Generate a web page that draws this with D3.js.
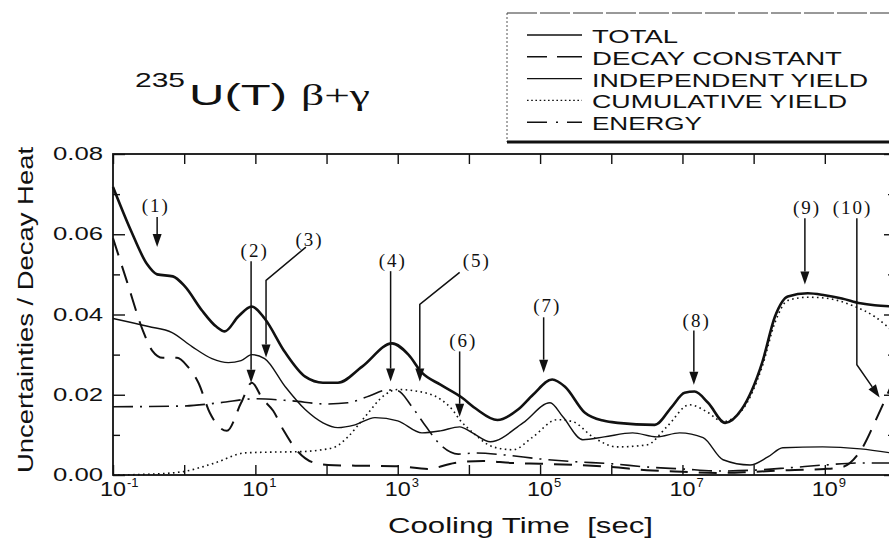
<!DOCTYPE html>
<html>
<head>
<meta charset="utf-8">
<script src="https://cdn.jsdelivr.net/npm/d3@7"></script>
<style>
  body { margin: 0; background: #fff; }
  svg { display: block; }
</style>
</head>
<body>
<svg id="chart" width="889" height="546"></svg>
<script>
// cooling time as log10(sec), values as uncertainty / decay heat
const totalLog = [-1, -0.75, -0.52, -0.38, -0.16, 0.01, 0.25, 0.45, 0.57, 0.76, 0.95, 1.13, 1.42, 1.70, 1.95, 2.16, 2.5, 2.92, 3.15, 3.34, 3.6, 3.9, 4.1, 4.4, 4.69, 4.9, 5.17, 5.35, 5.63, 5.9, 6.09, 6.61, 6.85, 7.03, 7.17, 7.36, 7.6, 7.83, 8.12, 8.3, 8.48, 8.76, 9.0, 9.24, 9.5, 9.7, 10.0];
const totalVal = [0.0718, 0.061, 0.0525, 0.050, 0.0495, 0.047, 0.041, 0.037, 0.0358, 0.0395, 0.042, 0.039, 0.0305, 0.0245, 0.023, 0.023, 0.027, 0.0328, 0.030, 0.0255, 0.0225, 0.0193, 0.0165, 0.0137, 0.0163, 0.020, 0.0238, 0.022, 0.0155, 0.0135, 0.013, 0.0125, 0.017, 0.0205, 0.0208, 0.018, 0.013, 0.0163, 0.028, 0.0395, 0.0445, 0.0453, 0.0448, 0.044, 0.0428, 0.0423, 0.042];

const decayLog = [-1, -0.8, -0.58, -0.45, -0.3, -0.1, 0.05, 0.2, 0.36, 0.6, 0.8, 0.95, 1.1, 1.25, 1.4, 1.6, 1.8, 2.02, 2.5, 3.0, 3.42, 3.8, 4.2, 4.6, 5.0, 5.5, 6.0, 6.5, 7.0, 7.5, 8.0, 8.5, 9.0, 9.25, 9.5, 9.75, 10.0];
const decayVal = [0.059, 0.048, 0.036, 0.031, 0.0292, 0.0292, 0.027, 0.023, 0.0155, 0.011, 0.018, 0.023, 0.019, 0.016, 0.011, 0.0058, 0.0032, 0.0025, 0.0023, 0.0022, 0.0015, 0.003, 0.0035, 0.003, 0.0028, 0.0025, 0.002, 0.0012, 0.0008, 0.0005, 0.0008, 0.0012, 0.0015, 0.002, 0.006, 0.015, 0.025];

const indepLog = [-1, -0.5, -0.17, 0.11, 0.39, 0.62, 0.8, 0.95, 1.13, 1.42, 1.70, 1.95, 2.16, 2.4, 2.68, 3.0, 3.34, 3.6, 3.87, 4.05, 4.30, 4.76, 5.14, 5.32, 5.6, 5.9, 6.3, 6.64, 6.96, 7.29, 7.57, 7.95, 8.2, 8.41, 8.97, 9.5, 10.0];
const indepVal = [0.039, 0.037, 0.0355, 0.032, 0.029, 0.028, 0.0285, 0.030, 0.029, 0.022, 0.0163, 0.013, 0.0118, 0.0125, 0.0143, 0.0135, 0.0105, 0.011, 0.012, 0.0105, 0.0083, 0.013, 0.018, 0.0145, 0.0088, 0.0095, 0.0105, 0.0095, 0.0105, 0.0093, 0.0038, 0.0025, 0.0045, 0.0068, 0.007, 0.0065, 0.0053];

const cumulLog = [-1, -0.5, -0.03, 0.43, 0.85, 1.2, 1.6, 1.9, 2.12, 2.3, 2.54, 2.82, 3.0, 3.3, 3.59, 3.78, 3.87, 4.06, 4.34, 4.62, 4.9, 5.24, 5.46, 5.74, 6.08, 6.5, 6.78, 7.1, 7.34, 7.57, 7.83, 8.12, 8.3, 8.48, 8.76, 9.0, 9.42, 9.7, 10.0];
const cumulVal = [0.0, 0.0002, 0.0008, 0.003, 0.0055, 0.0057, 0.0058, 0.0062, 0.007, 0.0095, 0.0145, 0.020, 0.0213, 0.0208, 0.019, 0.016, 0.0138, 0.0105, 0.007, 0.0063, 0.0095, 0.0138, 0.0133, 0.0095, 0.007, 0.0075, 0.012, 0.0175, 0.0158, 0.0133, 0.016, 0.027, 0.038, 0.0435, 0.0443, 0.0441, 0.042, 0.0395, 0.035];

const energyLog = [-1, 0, 0.5, 1.0, 1.5, 2.0, 2.3, 2.6, 2.85, 3.0, 3.2, 3.4, 3.6, 3.85, 4.1, 4.5, 5.0, 5.5, 6.0, 6.5, 7.0, 7.5, 8.0, 8.5, 9.0, 9.5, 10.0];
const energyVal = [0.017, 0.0172, 0.018, 0.019, 0.0185, 0.0177, 0.018, 0.0197, 0.0212, 0.021, 0.017, 0.012, 0.0075, 0.0052, 0.0055, 0.005, 0.004, 0.0033, 0.0028, 0.002, 0.0015, 0.001, 0.0012, 0.0018, 0.0025, 0.003, 0.003];

const legendNames = ["TOTAL", "DECAY CONSTANT", "INDEPENDENT YIELD", "CUMULATIVE YIELD", "ENERGY"];
const yTicks = [0.00, 0.02, 0.04, 0.06, 0.08];
const yMinorTicks = [0.01, 0.03, 0.05, 0.07];
const xLabelExps = [-1, 1, 3, 5, 7, 9];

// annotation arrows: label position, then path from label down to the arrow tip
const annoText = ["(1)", "(2)", "(3)", "(4)", "(5)", "(6)", "(7)", "(8)", "(9)", "(10)"];
const annoLabelLog = [-0.40, 0.99, 1.76, 2.93, 4.11, 3.92, 5.10, 7.20, 8.75, 9.39];
const annoLabelVal = [0.0655, 0.0543, 0.057, 0.0518, 0.0518, 0.032, 0.0405, 0.037, 0.065, 0.065];
const annoPathLog = [[-0.38, -0.38], [0.94, 0.94], [1.71, 1.15, 1.15], [2.90, 2.90], [3.87, 3.31, 3.31], [3.87, 3.87], [5.05, 5.05], [7.16, 7.16], [8.72, 8.72], [9.45, 9.45, 9.77]];
const annoPathVal = [[0.0643, 0.0568], [0.0533, 0.023], [0.0568, 0.0485, 0.0293], [0.0508, 0.0233], [0.0505, 0.0425, 0.0233], [0.0308, 0.0145], [0.0393, 0.0255], [0.036, 0.0225], [0.064, 0.0475], [0.064, 0.0275, 0.0193]];

const svg = d3.select("#chart");
const sans = "'Liberation Sans', Arial, sans-serif";
const serif = "'Liberation Serif', 'Times New Roman', serif";

const x = d3.scaleLog().domain([1e-1, 1e10]).range([113, 896]);
const y = d3.scaleLinear().domain([0, 0.08]).range([475, 154]);
const tx = e => x(Math.pow(10, e));

// series
const series = [
  { log: totalLog, val: totalVal, width: 2.6, dash: null },
  { log: decayLog, val: decayVal, width: 2, dash: "18,11" },
  { log: indepLog, val: indepVal, width: 1.4, dash: null },
  { log: cumulLog, val: cumulVal, width: 1.6, dash: "1.6,3.4" },
  { log: energyLog, val: energyVal, width: 1.6, dash: "20,7,2,7" }
];

const line = d3.line()
  .x(d => tx(d[0]))
  .y(d => y(d[1]))
  .curve(d3.curveMonotoneX);

svg.append("g").selectAll("path")
  .data(series)
  .join("path")
  .attr("d", s => line(d3.zip(s.log, s.val)))
  .attr("fill", "none")
  .attr("stroke", "#111")
  .attr("stroke-width", s => s.width)
  .attr("stroke-dasharray", s => s.dash)
  .attr("stroke-linejoin", "round");

// frame and ticks
const decades = d3.range(-1, 11).map(e => Math.pow(10, e));
svg.append("g").attr("transform", "translate(0,475)")
  .call(d3.axisBottom(x).tickValues(decades).tickSize(-10).tickFormat(""));
svg.append("g").attr("transform", "translate(0,154)")
  .call(d3.axisTop(x).tickValues(decades).tickSize(-10).tickFormat(""));
svg.append("g").attr("transform", "translate(113,0)")
  .call(d3.axisLeft(y).tickValues(yTicks).tickSize(-12).tickFormat(""));
svg.append("g").attr("transform", "translate(113,0)")
  .call(d3.axisLeft(y).tickValues(yMinorTicks).tickSize(-7).tickFormat(""));
svg.append("g").attr("transform", "translate(896,0)")
  .call(d3.axisRight(y).tickValues(yTicks).tickSize(-12).tickFormat(""));
svg.append("g").attr("transform", "translate(896,0)")
  .call(d3.axisRight(y).tickValues(yMinorTicks).tickSize(-8).tickFormat(""));
svg.selectAll(".domain").remove();
svg.selectAll(".tick line").attr("stroke", "#111").attr("stroke-width", 1.4);

svg.append("rect")
  .attr("x", x(1e-1)).attr("y", y(0.08))
  .attr("width", x(1e10) - x(1e-1)).attr("height", y(0) - y(0.08))
  .attr("fill", "none").attr("stroke", "#111").attr("stroke-width", 1.8);

// y tick labels
svg.append("g").selectAll("text")
  .data(yTicks)
  .join("text")
  .attr("x", 103).attr("y", d => y(d) + 6)
  .attr("text-anchor", "end")
  .attr("font-family", sans).attr("font-size", 19)
  .attr("textLength", 50).attr("lengthAdjust", "spacingAndGlyphs")
  .attr("fill", "#111")
  .text(d => d.toFixed(2));

// x tick labels 10^n
const xl = svg.append("g").selectAll("g")
  .data(xLabelExps)
  .join("g")
  .attr("transform", e => `translate(${tx(e)},496)`);
xl.append("text")
  .attr("x", -13).attr("font-family", sans).attr("font-size", 20)
  .attr("textLength", 26).attr("lengthAdjust", "spacingAndGlyphs")
  .attr("fill", "#111").text("10");
xl.append("text")
  .attr("x", 14).attr("y", -9).attr("font-family", sans).attr("font-size", 13)
  .attr("fill", "#111").text(e => e);

// axis titles
svg.append("text")
  .attr("x", 388).attr("y", 533)
  .attr("font-family", sans).attr("font-size", 22)
  .attr("textLength", 265).attr("lengthAdjust", "spacingAndGlyphs")
  .attr("fill", "#111")
  .style("white-space", "pre")
  .text("Cooling Time  [sec]");

svg.append("text")
  .attr("transform", "translate(33,473) rotate(-90)")
  .attr("font-family", sans).attr("font-size", 22)
  .attr("textLength", 326).attr("lengthAdjust", "spacingAndGlyphs")
  .attr("fill", "#111")
  .text("Uncertainties / Decay Heat");

// title
svg.append("text").attr("x", 135).attr("y", 87)
  .attr("font-family", sans).attr("font-size", 21)
  .attr("textLength", 50).attr("lengthAdjust", "spacingAndGlyphs")
  .attr("fill", "#111").text("235");
svg.append("text").attr("x", 189).attr("y", 105)
  .attr("font-family", sans).attr("font-size", 29)
  .attr("textLength", 98).attr("lengthAdjust", "spacingAndGlyphs")
  .attr("fill", "#111").text("U(T)");
svg.append("text").attr("x", 301).attr("y", 105)
  .attr("font-family", serif).attr("font-size", 29)
  .attr("textLength", 69).attr("lengthAdjust", "spacingAndGlyphs")
  .attr("fill", "#111").text("β+γ");

// legend box
const legend = svg.append("g");
legend.append("line").attr("x1", 507).attr("y1", 13).attr("x2", 507).attr("y2", 142)
  .attr("stroke", "#555").attr("stroke-width", 1).attr("stroke-dasharray", "2,2");
legend.append("line").attr("x1", 507).attr("y1", 13).attr("x2", 889).attr("y2", 13)
  .attr("stroke", "#333").attr("stroke-width", 1).attr("stroke-dasharray", "30,3");
legend.append("line").attr("x1", 507).attr("y1", 142).attr("x2", 889).attr("y2", 142)
  .attr("stroke", "#111").attr("stroke-width", 2.8);

const legendWidths = [86, 250, 276, 255, 110];
const legendDash = [null, "20,10,25", null, "1.6,2.6", "20,9,2,9"];
const rows = legend.selectAll("g.row")
  .data(legendNames)
  .join("g").attr("class", "row")
  .attr("transform", (d, i) => `translate(0,${43 + i * 21.8})`);
rows.append("line")
  .attr("x1", 527).attr("x2", 582).attr("y1", -8).attr("y2", -8)
  .attr("stroke", "#111")
  .attr("stroke-width", (d, i) => series[i].width > 2 ? 1.6 : 1.4)
  .attr("stroke-dasharray", (d, i) => legendDash[i]);
rows.append("text")
  .attr("x", 592)
  .attr("font-family", sans).attr("font-size", 18.5)
  .attr("textLength", (d, i) => legendWidths[i]).attr("lengthAdjust", "spacingAndGlyphs")
  .attr("fill", "#111")
  .text(d => d);

// annotation arrows
const annos = svg.append("g").selectAll("g")
  .data(annoText.map((t, i) => ({ t, i })))
  .join("g");
annos.append("text")
  .attr("x", d => tx(annoLabelLog[d.i]))
  .attr("y", d => y(annoLabelVal[d.i]))
  .attr("text-anchor", "middle")
  .attr("font-family", serif).attr("font-size", 19)
  .attr("letter-spacing", 2)
  .attr("fill", "#111")
  .text(d => d.t);

annos.each(function (d) {
  const pts = d3.zip(annoPathLog[d.i], annoPathVal[d.i]).map(p => [tx(p[0]), y(p[1])]);
  const g = d3.select(this);
  const a = pts[pts.length - 2], b = pts[pts.length - 1];
  const ang = Math.atan2(b[1] - a[1], b[0] - a[0]);
  const len = 13, half = 4.5;
  const base = [b[0] - len * Math.cos(ang), b[1] - len * Math.sin(ang)];
  const shaft = pts.slice(0, -1).concat([base]);
  g.append("path")
    .attr("d", d3.line()(shaft))
    .attr("fill", "none").attr("stroke", "#111").attr("stroke-width", 1.5);
  const nx = -Math.sin(ang), ny = Math.cos(ang);
  g.append("path")
    .attr("d", d3.line()([
      b,
      [base[0] + nx * half, base[1] + ny * half],
      [base[0] - nx * half, base[1] - ny * half]
    ]) + "Z")
    .attr("fill", "#111");
});
</script>
</body>
</html>
